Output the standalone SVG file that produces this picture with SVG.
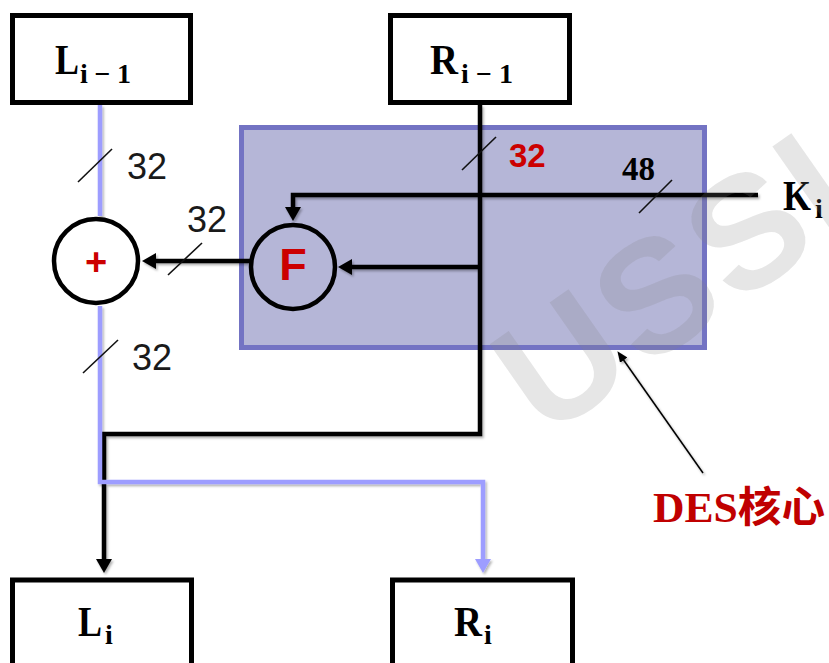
<svg xmlns="http://www.w3.org/2000/svg" width="829" height="663" viewBox="0 0 829 663">
<style>
.box{fill:#fff;stroke:#000;stroke-width:5}
.lbl{font-family:"Liberation Serif","Times New Roman",serif;font-weight:bold;fill:#000}
.num{font-family:"Liberation Sans",Arial,sans-serif;font-size:36px;fill:#1a1a1a}
.w{fill:none;stroke:#000;stroke-width:4.5}
.b{fill:none;stroke:#9d9dff;stroke-width:4.5}
.tick{stroke:#111;stroke-width:1.6}
.circ{stroke:#000;stroke-width:4.5}
</style>
<defs>
<marker id="ah" viewBox="0 0 14 16" refX="4" refY="8" markerWidth="14" markerHeight="16" markerUnits="userSpaceOnUse" orient="auto">
<path d="M0,0 L14,8 L0,16 z" fill="#000"/>
</marker>
<marker id="ahb" viewBox="0 0 14 16" refX="4" refY="8" markerWidth="14" markerHeight="16" markerUnits="userSpaceOnUse" orient="auto">
<path d="M0,0 L14,8 L0,16 z" fill="#9d9dff"/>
</marker>
<marker id="as" viewBox="0 0 11 9" refX="3" refY="4.5" markerWidth="11" markerHeight="9" markerUnits="userSpaceOnUse" orient="auto">
<path d="M0,0 L11,4.5 L0,9 z" fill="#000"/>
</marker>
<filter id="sh" x="-10%" y="-10%" width="120%" height="120%">
<feDropShadow dx="1.5" dy="2" stdDeviation="1.2" flood-color="#000" flood-opacity="0.3"/>
</filter>
</defs>
<rect width="829" height="663" fill="#fff"/>

<g id="des-core">
<rect x="241.5" y="127.5" width="463" height="220" fill="#b5b6d7" stroke="#7373c3" stroke-width="5"/>
</g>

<g id="connectors" filter="url(#sh)">
<path class="w" d="M480,105 V434 H104 V563" marker-end="url(#ah)"/>
<path class="b" d="M100,105 V216"/>
<path class="b" d="M100,306 V482 H483 V563" marker-end="url(#ahb)"/>
<path class="w" d="M480,267 H348" marker-end="url(#ah)"/>
<path class="w" d="M758,195 H293 V211" marker-end="url(#ah)"/>
<path class="w" d="M250,261 H152" marker-end="url(#ah)"/>
<path d="M703,473 L622,357.7" fill="none" stroke="#000" stroke-width="1.5" marker-end="url(#as)"/>
</g>

<g id="ticks">
<line class="tick" x1="78" y1="182" x2="112" y2="149"/>
<line class="tick" x1="168" y1="275" x2="202" y2="243"/>
<line class="tick" x1="83" y1="373" x2="118" y2="340"/>
<line class="tick" x1="462" y1="170" x2="496" y2="137"/>
<line class="tick" x1="639" y1="213" x2="672" y2="180"/>
<text class="num" x="127" y="179">32</text>
<text class="num" x="187" y="232">32</text>
<text class="num" x="132" y="370">32</text>
<text x="509" y="167" font-family="Liberation Sans,Arial,sans-serif" font-weight="bold" font-size="33" fill="#cc0000">32</text>
<text class="lbl" x="622" y="180" font-size="33">48</text>
</g>

<g id="node-Lprev">
<rect class="box" x="12.5" y="15.5" width="178" height="87"/>
<text class="lbl" x="55" y="74" font-size="42" textLength="24" lengthAdjust="spacingAndGlyphs">L</text>
<text class="lbl" x="80" y="83" font-size="28" textLength="51" lengthAdjust="spacing">i−1</text>
</g>

<g id="node-Rprev">
<rect class="box" x="390.5" y="15.5" width="179" height="87"/>
<text class="lbl" x="430" y="74" font-size="42" textLength="28" lengthAdjust="spacingAndGlyphs">R</text>
<text class="lbl" x="461" y="83" font-size="28" textLength="52" lengthAdjust="spacing">i−1</text>
</g>

<g id="node-xor">
<circle class="circ" cx="96" cy="261" r="42" fill="#fff"/>
<text x="96" y="275" text-anchor="middle" font-family="Liberation Sans,Arial,sans-serif" font-weight="bold" font-size="38" fill="#cc0000">+</text>
</g>

<g id="node-F">
<circle class="circ" cx="293" cy="267" r="42" fill="none"/>
<text x="293" y="280" text-anchor="middle" font-family="Liberation Sans,Arial,sans-serif" font-weight="bold" font-size="45" fill="#cc0000">F</text>
</g>

<g id="node-K">
<text class="lbl" x="783" y="210" font-size="42" textLength="28" lengthAdjust="spacingAndGlyphs">K</text>
<text class="lbl" x="815" y="218" font-size="28">i</text>
</g>

<g id="node-Li">
<rect class="box" x="12.5" y="580" width="179" height="100"/>
<text class="lbl" x="78" y="636" font-size="42" textLength="24" lengthAdjust="spacingAndGlyphs">L</text>
<text class="lbl" x="105" y="644" font-size="28">i</text>
</g>

<g id="node-Ri">
<rect class="box" x="392.5" y="580" width="180" height="100"/>
<text class="lbl" x="454" y="636" font-size="42" textLength="28" lengthAdjust="spacingAndGlyphs">R</text>
<text class="lbl" x="484" y="644" font-size="28">i</text>
</g>

<g id="label-des">
<text x="653" y="522" textLength="172" lengthAdjust="spacingAndGlyphs" font-family="Liberation Serif,'Times New Roman','Noto Sans CJK SC',serif" font-weight="bold" font-size="42" fill="#c00000">DES<tspan font-family="'Noto Sans CJK SC',sans-serif" font-size="42">核心</tspan></text>
</g>

<text x="545" y="440" transform="rotate(-35 545 440)" font-family="Liberation Sans,Arial,sans-serif" font-weight="bold" font-size="160" letter-spacing="5" fill="#808080" fill-opacity="0.2">USSI</text>
</svg>
